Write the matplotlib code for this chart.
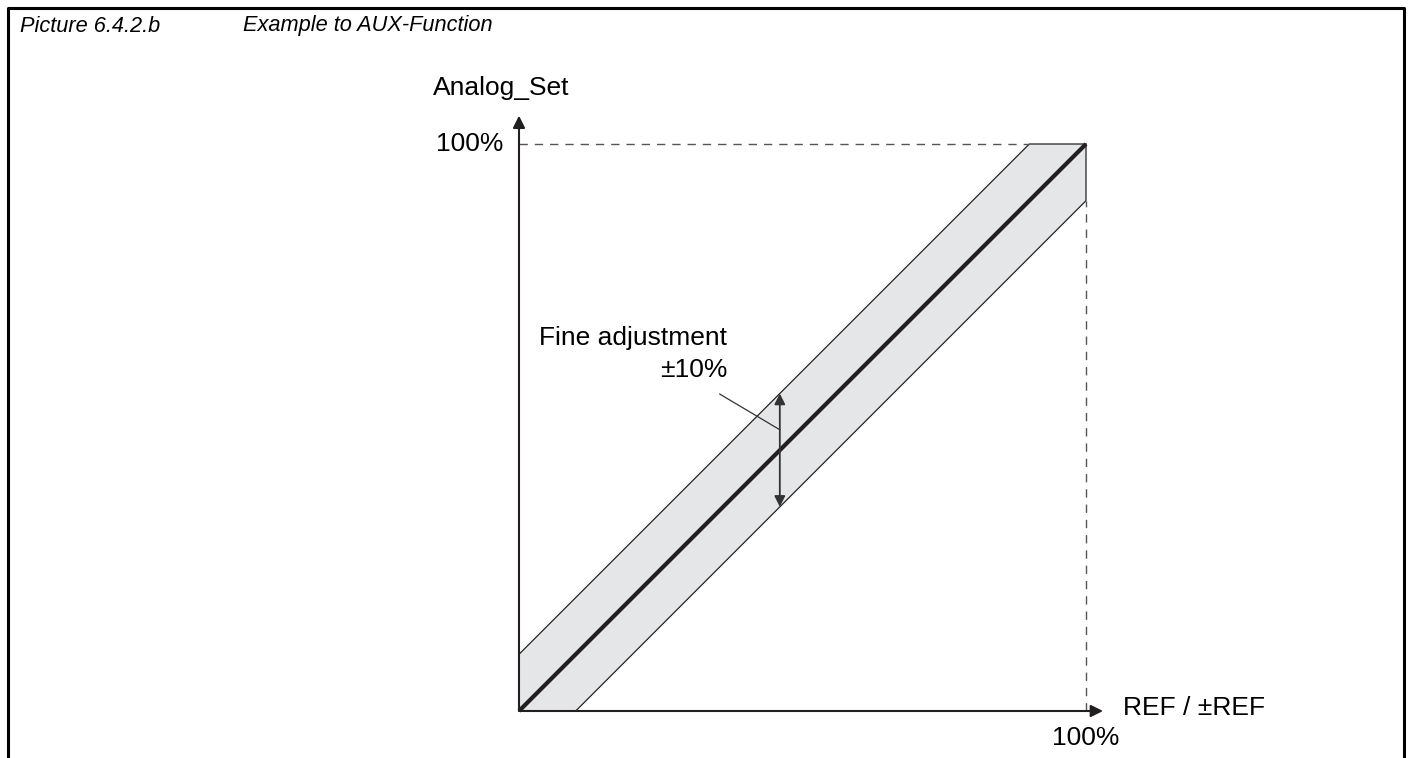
import matplotlib
matplotlib.use("Agg")
from matplotlib import pyplot as plt
from matplotlib.lines import Line2D

plt.rcParams['font.family'] = ['Liberation Sans', 'DejaVu Sans']

# band around the ideal characteristic, in percent
band_x = [0, 0, 90, 100, 100, 10]
band_y = [0, 10, 100, 100, 90, 0]
ideal_x = [0, 100]
ideal_y = [0, 100]
upper_x = [0, 90, 100]
upper_y = [10, 100, 100]
lower_x = [10, 100, 100]
lower_y = [0, 90, 100]
fine_x = 46
fine_lo = 36
fine_hi = 56

title_num = "Picture 6.4.2.b"
title_txt = "Example to AUX-Function"

fig = plt.figure(figsize=(14.1, 7.58), dpi=100)

# frame
fig.add_artist(Line2D([8/1410, 8/1410, 1404/1410, 1404/1410],
                      [0, 1-8/758, 1-8/758, 0], color='black', lw=2.2))
fig.text(20/1410, 1-26/758, title_num, style='italic', fontsize=15.7, va='center')
fig.text(243/1410, 1-26/758, title_txt, style='italic', fontsize=15.7, va='center')

ax = fig.add_axes([519/1410, 47/758, 567/1410, 567/758])
ax.set_xlim(0, 100)
ax.set_ylim(0, 100)
ax.axis('off')

ax.fill(band_x, band_y, color='#e5e6e8', lw=0)
ax.plot(upper_x, upper_y, color='#222222', lw=0.9, clip_on=False)
ax.plot(lower_x, lower_y, color='#222222', lw=0.9, clip_on=False)
ax.plot(ideal_x, ideal_y, color='#231f20', lw=3, solid_capstyle='butt', clip_on=False)

# dashed guides
ax.plot([0, 90], [100, 100], color='#555555', lw=1, dashes=(6, 5), clip_on=False)
ax.plot([100, 100], [0, 90], color='#555555', lw=1, dashes=(6, 5), clip_on=False)

# axes with arrows
ax.annotate('', xy=(0, 105), xytext=(0, 0), annotation_clip=False,
            arrowprops=dict(arrowstyle='-|>', color='#231f20', lw=1.5,
                            mutation_scale=18, shrinkA=0, shrinkB=0))
ax.annotate('', xy=(103, 0), xytext=(0, 0), annotation_clip=False,
            arrowprops=dict(arrowstyle='-|>', color='#231f20', lw=1.5,
                            mutation_scale=18, shrinkA=0, shrinkB=0))

# fine adjustment double arrow
ax.annotate('', xy=(fine_x, fine_hi), xytext=(fine_x, fine_lo), annotation_clip=False,
            arrowprops=dict(arrowstyle='<|-|>', color='#333333', lw=1.3,
                            mutation_scale=16, shrinkA=0, shrinkB=0))
ax.plot([35.4, fine_x], [55.9, 49.6], color='#333333', lw=0.9)

ax.text(36.7, 65.8, "Fine adjustment", ha='right', va='center', fontsize=19)
ax.text(36.7, 60.2, "±10%", ha='right', va='center', fontsize=19)

ax.text(-15.2, 109.9, "Analog_Set", ha='left', va='center', fontsize=19, clip_on=False)
ax.text(-2.8, 100, "100%", ha='right', va='center', fontsize=19, clip_on=False)
ax.text(100, -4.8, "100%", ha='center', va='center', fontsize=19, clip_on=False)
ax.text(106.5, 0.5, "REF / ±REF", ha='left', va='center', fontsize=19, clip_on=False)

fig.savefig("out.png", dpi=100)
